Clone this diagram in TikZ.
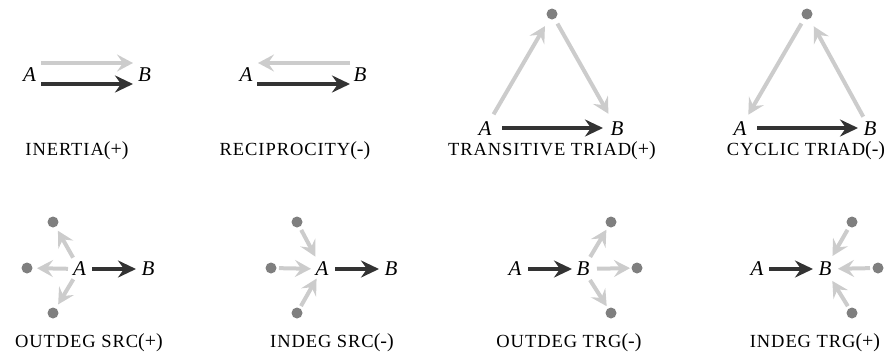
\documentclass[tikz,border=0pt]{standalone}
\usepackage{fontspec}
\setmainfont{Liberation Serif}
\newfontfamily\capsfont[LetterSpace=5]{Liberation Serif}
\usetikzlibrary{arrows.meta}
\definecolor{darkc}{HTML}{333333}
\definecolor{lightc}{HTML}{CCCCCC}
\definecolor{dotc}{HTML}{7F7F7F}
\newcommand{\lbl}[2]{{\capsfont\fontsize{18.5}{19}\selectfont #1}{\fontsize{20}{20}\selectfont(#2)}}
\begin{document}
\begin{tikzpicture}[x=1pt,y=-1pt,
 letter/.style={inner sep=0pt, font=\fontsize{21}{21}\selectfont\itshape},
 dotnode/.style={circle, fill=dotc, inner sep=0pt, minimum size=11pt},
 darkarrow/.style={draw=darkc, line width=4.5pt, -{Stealth[length=18pt,width=17pt,inset=6pt]}},
 lightarrow/.style={draw=lightc, line width=4pt, -{Stealth[length=16pt,width=17pt,inset=6pt]}},
 caption/.style={anchor=base, inner sep=0pt},
]
\useasboundingbox (0,0) rectangle (889,354);

% Panel 1: inertia
\node[letter] (A1) at (29.5,75) {A};
\node[letter] (B1) at (144.5,75) {B};
\draw[lightarrow, shorten <=11.5pt, shorten >=11.5pt] ([yshift=12pt]A1.center) -- ([yshift=12pt]B1.center);
\draw[darkarrow, shorten <=11.5pt, shorten >=11.5pt] ([yshift=-9pt]A1.center) -- ([yshift=-9pt]B1.center);
\node[caption] (L1) at (77,155) {\lbl{INERTIA}{+}};

% Panel 2: reciprocity
\node[letter] (A2) at (246,75) {A};
\node[letter] (B2) at (360,75) {B};
\draw[lightarrow, shorten <=10pt, shorten >=12pt] ([yshift=12pt]B2.center) -- ([yshift=12pt]A2.center);
\draw[darkarrow, shorten <=11pt, shorten >=10pt] ([yshift=-9pt]A2.center) -- ([yshift=-9pt]B2.center);
\node[caption] (L2) at (295,155) {\lbl{RECIPROCITY}{-}};

% Panel 3: transitive triad
\node[letter] (A3) at (485,129) {A};
\node[letter] (B3) at (617,129) {B};
\node[dotnode] (T3) at (552,14) {};
\draw[darkarrow, shorten <=17pt, shorten >=14pt] ([yshift=1pt]A3.center) -- ([yshift=1pt]B3.center);
\draw[lightarrow, shorten <=17pt, shorten >=14pt] (A3.center) -- (T3.center);
\draw[lightarrow, shorten <=11pt, shorten >=17.5pt] (T3.center) -- (B3.center);
\node[caption] (L3) at (552,155) {\lbl{TRANSITIVE TRIAD}{+}};

% Panel 4: cyclic triad
\node[letter] (A4) at (740,129) {A};
\node[letter] (B4) at (870,129) {B};
\node[dotnode] (T4) at (807,14) {};
\draw[darkarrow, shorten <=17pt, shorten >=12pt] ([yshift=1pt]A4.center) -- ([yshift=1pt]B4.center);
\draw[lightarrow, shorten <=11pt, shorten >=16.5pt] (T4.center) -- (A4.center);
\draw[lightarrow, shorten <=14pt, shorten >=14pt] (B4.center) -- (T4.center);
\node[caption] (L4) at (806,155) {\lbl{CYCLIC TRIAD}{-}};

% Panel 5: outdeg src
\node[letter] (A5) at (79.5,269) {A};
\node[letter] (B5) at (148,269) {B};
\node[dotnode] (P5a) at (53,222) {};
\node[dotnode] (P5b) at (27,268) {};
\node[dotnode] (P5c) at (53,313) {};
\draw[darkarrow, shorten <=12.5pt, shorten >=12pt] (A5.center) -- (B5.center);
\draw[lightarrow, shorten <=13pt, shorten >=10pt] (A5.center) -- (P5a.center);
\draw[lightarrow, shorten <=11.5pt, shorten >=10pt] (A5.center) -- (P5b.center);
\draw[lightarrow, shorten <=12pt, shorten >=10pt] (A5.center) -- (P5c.center);
\node[caption] (L5) at (89,347) {\lbl{OUTDEG SRC}{+}};

% Panel 6: indeg src
\node[letter] (A6) at (322,269) {A};
\node[letter] (B6) at (391,269) {B};
\node[dotnode] (P6a) at (297,222) {};
\node[dotnode] (P6b) at (271,268) {};
\node[dotnode] (P6c) at (297,313) {};
\draw[darkarrow, shorten <=13pt, shorten >=12pt] (A6.center) -- (B6.center);
\draw[lightarrow, shorten <=9pt, shorten >=14pt] (P6a.center) -- (A6.center);
\draw[lightarrow, shorten <=8pt, shorten >=11pt] (P6b.center) -- (A6.center);
\draw[lightarrow, shorten <=8pt, shorten >=11pt] (P6c.center) -- (A6.center);
\node[caption] (L6) at (332,347) {\lbl{INDEG SRC}{-}};

% Panel 7: outdeg trg
\node[letter] (A7) at (515,269) {A};
\node[letter] (B7) at (583,269) {B};
\node[dotnode] (P7a) at (611,222) {};
\node[dotnode] (P7b) at (637,268) {};
\node[dotnode] (P7c) at (611,313) {};
\draw[darkarrow, shorten <=13pt, shorten >=11pt] (A7.center) -- (B7.center);
\draw[lightarrow, shorten <=14pt, shorten >=9pt] (B7.center) -- (P7a.center);
\draw[lightarrow, shorten <=14pt, shorten >=7pt] (B7.center) -- (P7b.center);
\draw[lightarrow, shorten <=13pt, shorten >=8pt] (B7.center) -- (P7c.center);
\node[caption] (L7) at (569,347) {\lbl{OUTDEG TRG}{-}};

% Panel 8: indeg trg
\node[letter] (A8) at (757,269) {A};
\node[letter] (B8) at (825,269) {B};
\node[dotnode] (P8a) at (852,222) {};
\node[dotnode] (P8b) at (878,268) {};
\node[dotnode] (P8c) at (852,313) {};
\draw[darkarrow, shorten <=12pt, shorten >=12pt] (A8.center) -- (B8.center);
\draw[lightarrow, shorten <=9pt, shorten >=15pt] (P8a.center) -- (B8.center);
\draw[lightarrow, shorten <=8pt, shorten >=13pt] (P8b.center) -- (B8.center);
\draw[lightarrow, shorten <=8pt, shorten >=14pt] (P8c.center) -- (B8.center);
\node[caption] (L8) at (815,347) {\lbl{INDEG TRG}{+}};
\end{tikzpicture}
\end{document}
